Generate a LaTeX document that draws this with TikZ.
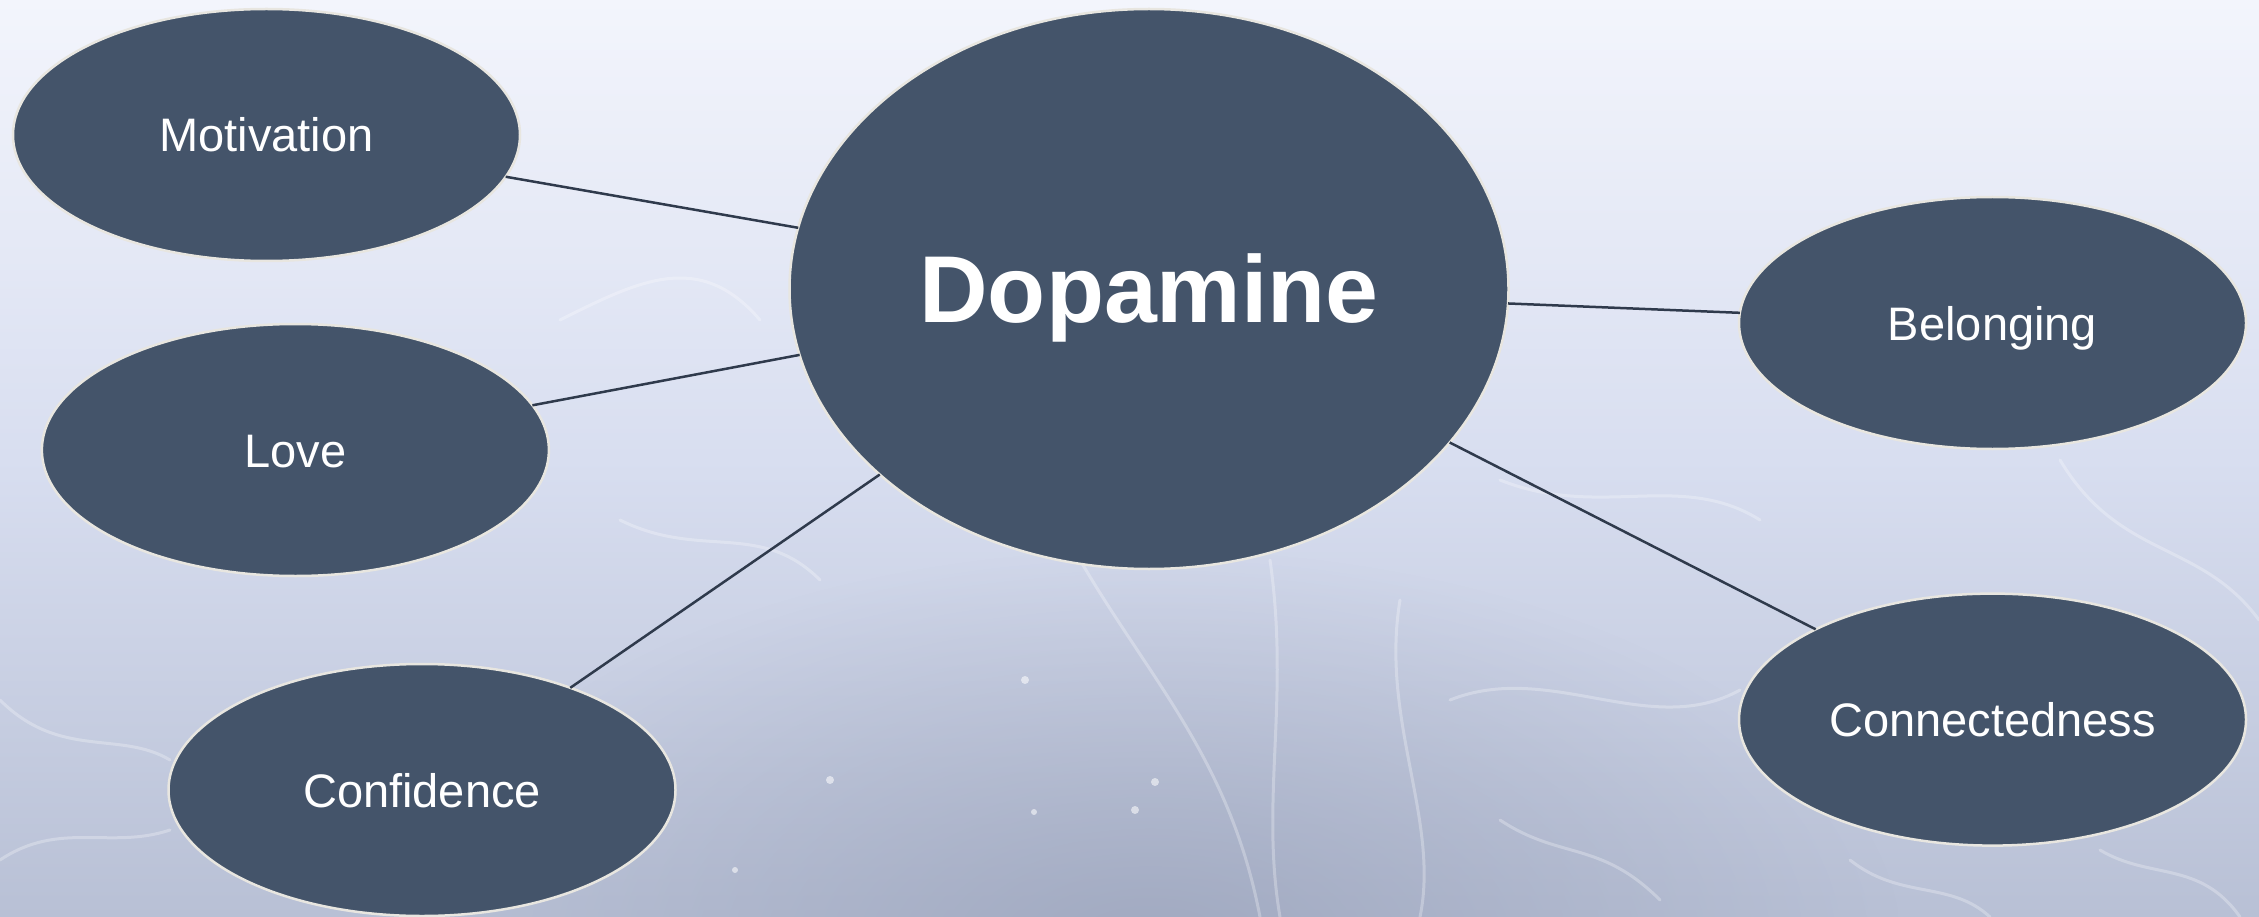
\documentclass[tikz,border=0pt]{standalone}
\usepackage{fontspec}
\setmainfont{Liberation Sans}
\usetikzlibrary{shapes.geometric,fadings}
\definecolor{bgtop}{HTML}{F3F5FC}
\definecolor{bgmid}{HTML}{D8DEF0}
\definecolor{bgbot}{HTML}{B8C0D5}
\definecolor{bgdark}{HTML}{8E97B0}
\definecolor{nodefill}{HTML}{44546A}
\definecolor{nodeedge}{HTML}{E8E6E0}
\definecolor{linkcol}{HTML}{2F3A4C}
\tikzfading[name=softglow, inner color=transparent!0, outer color=transparent!100]
\tikzset{
  bubble/.style={ellipse, fill=nodefill, draw=nodeedge, line width=2.5pt,
    inner sep=0pt, outer sep=0pt, text=white,
    minimum width=507pt, minimum height=252pt,
    font=\fontsize{47}{56}\selectfont, text height=34pt, text depth=0pt},
  hub/.style={bubble, minimum width=719pt, minimum height=560pt,
    font=\fontsize{95}{110}\selectfont\bfseries, text height=68pt},
  link/.style={draw=linkcol, line width=2.5pt},
  strand/.style={draw=white, line width=3pt, opacity=0.28, line cap=round},
  glow/.style={fill=white, opacity=0.55}
}
\begin{document}
\begin{tikzpicture}[x=1pt,y=-1pt]
\useasboundingbox (0,0) rectangle (2259,917);
% background
\shade[top color=bgtop, bottom color=bgbot, middle color=bgmid] (0,0) rectangle (2259,917);
\fill[bgdark, path fading=softglow, opacity=0.55] (400,550) rectangle (1900,1350);
\begin{scope}
\clip (0,0) rectangle (2259,917);
% faint neuron strands
\draw[strand] (1080,560) .. controls (1150,680) and (1230,760) .. (1260,917);
\draw[strand] (1270,560) .. controls (1290,700) and (1260,800) .. (1280,917);
\draw[strand] (1400,600) .. controls (1380,720) and (1440,820) .. (1420,917);
\draw[strand] (1450,700) .. controls (1550,660) and (1650,740) .. (1740,690);
\draw[strand] (1500,480) .. controls (1600,520) and (1680,470) .. (1760,520);
\draw[strand] (2060,460) .. controls (2120,560) and (2200,540) .. (2259,620);
\draw[strand] (2100,850) .. controls (2150,880) and (2200,860) .. (2240,917);
\draw[strand] (1850,860) .. controls (1900,900) and (1950,880) .. (1990,917);
\draw[strand] (1500,820) .. controls (1560,860) and (1600,840) .. (1660,900);
\draw[strand] (560,320) .. controls (640,280) and (700,250) .. (760,320);
\draw[strand] (0,700) .. controls (60,760) and (120,730) .. (170,760);
\draw[strand] (0,860) .. controls (60,820) and (110,850) .. (170,830);
\draw[strand] (620,520) .. controls (700,560) and (760,520) .. (820,580);
\fill[glow] (1155,782) circle (4);
\fill[glow] (1135,810) circle (4);
\fill[glow] (1034,812) circle (3);
\fill[glow] (1025,680) circle (4);
\fill[glow] (830,780) circle (4);
\fill[glow] (735,870) circle (3);
\end{scope}
% nodes
\node[bubble] (mot) at (266.5,135) {Motivation};
\node[bubble] (love) at (295.4,450) {Love};
\node[bubble] (conf) at (422,790) {Confidence};
\node[hub] (dop) at (1149,289) {Dopamine};
\node[bubble] (bel) at (1992.5,323) {Belonging};
\node[bubble] (con) at (1992.5,719.6) {Connectedness};
% connectors
\draw[link] (mot) -- (dop);
\draw[link] (love) -- (dop);
\draw[link] (conf) -- (dop);
\draw[link] (dop) -- (bel);
\draw[link] (dop) -- (con);
\end{tikzpicture}
\end{document}
